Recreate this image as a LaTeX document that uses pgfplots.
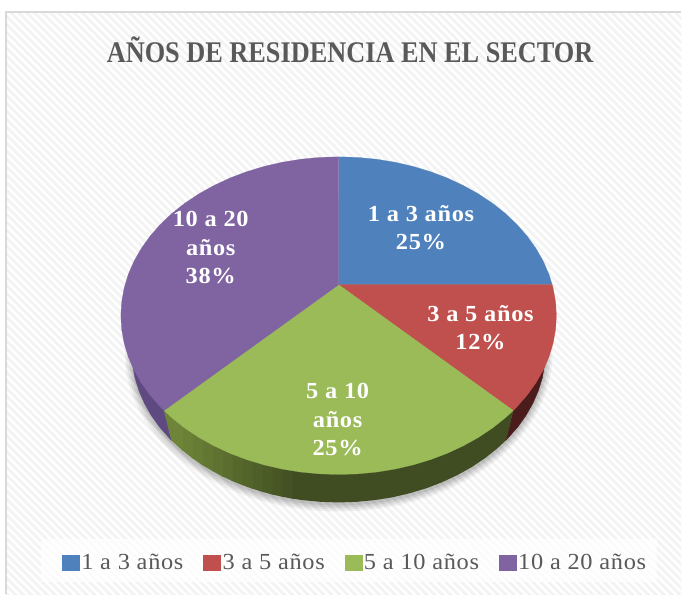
\documentclass[border=0pt]{standalone}
\usepackage{fontspec}
\usepackage{pgfplots}
\pgfplotsset{compat=1.18}
\usetikzlibrary{patterns.meta}
\setmainfont[FakeStretch=1.06,LetterSpace=3]{Liberation Serif}
\newfontfamily\titlefont[FakeStretch=.877]{Liberation Serif}

\definecolor{blue1}{HTML}{4F81BD}
\definecolor{red1}{HTML}{C0504D}
\definecolor{green1}{HTML}{9BBB59}
\definecolor{purple1}{HTML}{8064A2}
\definecolor{redside}{HTML}{4A1C1C}
\definecolor{purpleside}{HTML}{5E4A80}
\definecolor{gdark}{HTML}{404D22}
\definecolor{glight}{HTML}{6E8438}
\definecolor{grid1}{HTML}{F3F3F3}
\definecolor{txt}{HTML}{595959}

\newcommand{\lab}[1]{\fontsize{23}{28.5}\selectfont\bfseries #1}

\begin{document}
\begin{tikzpicture}
\begin{axis}[
  scale only axis,
  width=682pt, height=595pt,
  xmin=0, xmax=682, ymin=0, ymax=595,
  y dir=reverse,
  hide axis,
  clip=false,
  legend columns=4,
  legend cell align=left,
  legend style={at={(axis cs:355.5,563)}, anchor=center, draw=none, fill=none,
    font=\fontsize{23}{26}\selectfont\color{txt}, inner sep=0pt, outer sep=0pt,
    /tikz/every even column/.append style={column sep=18pt}},
  legend image code/.code={\fill[#1] (0pt,-7.5pt) rectangle (15pt,7.5pt);\useasboundingbox (0pt,-7.5pt) rectangle (17pt,7.5pt);},
]
% background and frame
\fill[white] (axis cs:0,0) rectangle (axis cs:682,595);
\fill[pattern={Lines[angle=-45,distance=5.6pt,line width=2.8pt]},pattern color=grid1]
  (axis cs:6,12) rectangle (axis cs:682,595);
\draw[color=black!15,line width=1.5pt] (axis cs:6,595) -- (axis cs:6,12) -- (axis cs:682,12);
\fill[white,opacity=.75] (axis cs:41,540) rectangle (axis cs:658,583);

% soft shadow under the pie
\fill[black,opacity=.05] (axis cs:339,354) ellipse [x radius=214pt, y radius=158pt];
\fill[black,opacity=.06] (axis cs:339,354) ellipse [x radius=212pt, y radius=156pt];
\fill[black,opacity=.07] (axis cs:339,354) ellipse [x radius=210pt, y radius=154pt];
\fill[black,opacity=.08] (axis cs:339,354) ellipse [x radius=208pt, y radius=152pt];

% side walls, their upper edges are hidden by the top face
\addplot[forget plot,fill=purpleside,draw=purpleside] coordinates {
  (164.2,411) (171.5,440.8) (159.7,427.5) (151.4,415.8) (144.5,403.6)
  (139.1,391.1) (135.1,378.2) (132.8,365.2) (140,360)} -- cycle;
\addplot[forget plot,fill=redside,draw=redside] coordinates {
  (513.8,411) (506.5,440.8) (518.3,427.5) (526.6,415.8) (533.5,403.6)
  (538.9,391.1) (542.9,378.2) (545.2,365.2) (538,360)} -- cycle;
\addplot[forget plot,fill=gdark,draw=none] coordinates {
  (513.8,411) (292,440) (292,499.1) (303.1,500.7) (321,502.4) (339,503) (357,502.4)
  (374.9,500.7) (392.6,497.9) (409.8,493.9) (426.5,488.9) (442.5,482.8) (457.7,475.7)
  (472.1,467.7) (485.4,458.8) (497.6,449.1) (506.5,440.8)} -- cycle;
% left part of the green wall gets lighter towards the edge,
% each strip runs a little over the one drawn before it
\addplot[forget plot,fill=glight!8!gdark,draw=none] coordinates {
  (282,440) (293,440) (293,499.3) (282,497.2)} -- cycle;
\addplot[forget plot,fill=glight!17!gdark,draw=none] coordinates {
  (272,440) (283,440) (283,497.4) (272,494.9)} -- cycle;
\addplot[forget plot,fill=glight!25!gdark,draw=none] coordinates {
  (262,440) (273,440) (273,495.2) (262,492.2)} -- cycle;
\addplot[forget plot,fill=glight!33!gdark,draw=none] coordinates {
  (252,440) (263,440) (263,492.5) (252,489)} -- cycle;
\addplot[forget plot,fill=glight!42!gdark,draw=none] coordinates {
  (242,440) (253,440) (253,489.4) (242,485.4)} -- cycle;
\addplot[forget plot,fill=glight!50!gdark,draw=none] coordinates {
  (232,440) (243,440) (243,485.8) (232,481.3)} -- cycle;
\addplot[forget plot,fill=glight!58!gdark,draw=none] coordinates {
  (222,430) (233,430) (233,481.8) (222,476.6)} -- cycle;
\addplot[forget plot,fill=glight!67!gdark,draw=none] coordinates {
  (212,430) (223,430) (223,477.2) (212,471.2)} -- cycle;
\addplot[forget plot,fill=glight!75!gdark,draw=none] coordinates {
  (202,420) (213,420) (213,471.8) (202,465.2)} -- cycle;
\addplot[forget plot,fill=glight!83!gdark,draw=none] coordinates {
  (192,420) (203,420) (203,465.9) (192,458.3)} -- cycle;
\addplot[forget plot,fill=glight!92!gdark,draw=none] coordinates {
  (182,410) (193,410) (193,459.1) (182,450.4)} -- cycle;
\addplot[forget plot,fill=glight,draw=none] coordinates {
  (172,405) (183,410) (183,451.3) (171.5,440.8) (164.2,411)} -- cycle;

% top face: 25, 12, 25, 38 %
\addplot[fill=blue1,draw=blue1,line width=.2pt] coordinates {
  (339,285) (339,157) (358,157.6) (376.9,159.4) (395.4,162.4) (413.6,166.6)
  (431.1,171.9) (448,178.3) (464,185.8) (479.1,194.2) (493.2,203.6) (506,213.8)
  (517.6,224.8) (527.8,236.5) (536.6,248.8) (543.9,261.6) (549.6,274.8) (552.8,285)} -- cycle;
\addlegendentry{1 a 3 años}
\addplot[fill=red1,draw=red1,line width=.2pt] coordinates {
  (339,285) (552.8,285) (553.7,288.4) (556.2,302.1) (557,316) (556.2,329.9)
  (553.7,343.6) (549.6,357.2) (543.9,370.4) (536.6,383.2) (527.8,395.5)
  (517.6,407.2) (513.8,411)} -- cycle;
\addlegendentry{3 a 5 años}
\addplot[fill=green1,draw=green1,line width=.2pt] coordinates {
  (339,285) (513.8,411) (506,418.2) (493.2,428.4) (479.1,437.8) (464,446.2)
  (448,453.7) (431.1,460.1) (413.6,465.4) (395.4,469.6) (376.9,472.6) (358,474.4)
  (339,475) (320,474.4) (301.1,472.6) (282.6,469.6) (264.4,465.4) (246.9,460.1)
  (230,453.7) (214,446.2) (198.9,437.8) (184.8,428.4) (172,418.2) (164.2,411)} -- cycle;
\addlegendentry{5 a 10 años}
\addplot[fill=purple1,draw=purple1,line width=.2pt] coordinates {
  (339,285) (164.2,411) (160.4,407.2) (150.2,395.5) (141.4,383.2) (134.1,370.4)
  (128.4,357.2) (124.3,343.6) (121.8,329.9) (121,316) (121.8,302.1) (124.3,288.4)
  (128.4,274.8) (134.1,261.6) (141.4,248.8) (150.2,236.5) (160.4,224.8) (172,213.8)
  (184.8,203.6) (198.9,194.2) (214,185.8) (230,178.3) (246.9,171.9) (264.4,166.6)
  (282.6,162.4) (301.1,159.4) (320,157.6) (339,157)} -- cycle;
\addlegendentry{10 a 20 años}

% slice labels
\node[white,align=center,font=\lab{}] at (axis cs:421.5,228) {1 a 3 años\\25\%};
\node[white,align=center,font=\lab{}] at (axis cs:481,328) {3 a 5 años\\12\%};
\node[white,align=center,font=\lab{}] at (axis cs:338,420) {5 a 10\\años\\25\%};
\node[white,align=center,font=\lab{}] at (axis cs:211,248) {10 a 20\\años\\38\%};

% title
\node[txt,font=\titlefont\fontsize{30}{34}\selectfont\bfseries] at (axis cs:350.5,50) {AÑOS DE RESIDENCIA EN EL SECTOR};
\end{axis}
\end{tikzpicture}
\end{document}
